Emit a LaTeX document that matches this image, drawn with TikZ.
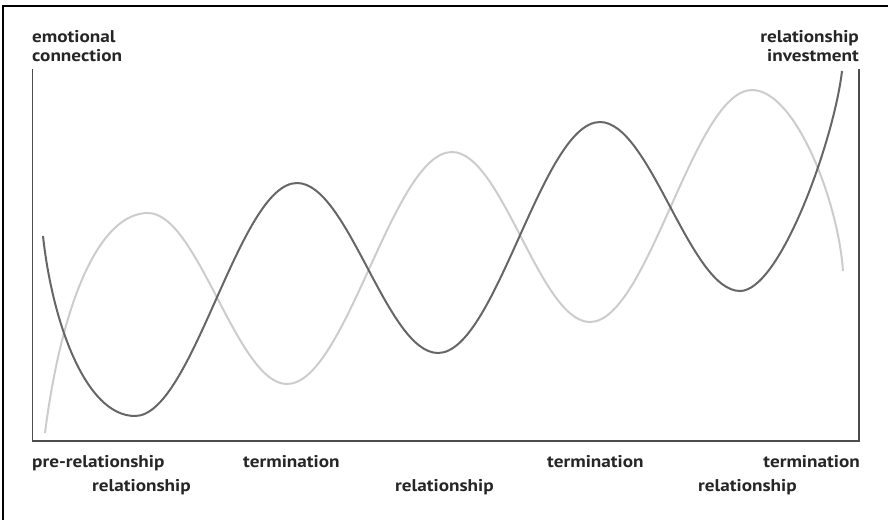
\documentclass[tikz,border=0pt]{standalone}
\usepackage{fontspec}
\setmainfont[FakeStretch=1.13]{PT Sans}
\begin{document}
\begin{tikzpicture}[x=1pt,y=-1pt,
  lbl/.style={inner sep=0pt,font=\bfseries\fontsize{17}{18.3}\selectfont,text=black!85},
  axis/.style={draw=black!70,line width=1.3pt},
  frame/.style={draw=black,line width=1.4pt},
  darkc/.style={draw=black!60,line width=2pt},
  lightc/.style={draw=black!20,line width=2pt}]
\useasboundingbox (0,0) rectangle (888,519);
\draw[frame] (3,525) -- (3,6) -- (895,6);
\draw[axis] (32.5,69) -- (32.5,441) -- (859,441) -- (859,69);
% light curve
\draw[lightc] (45,433) .. controls (62,300) and (100,213) .. (148,213)
  .. controls (198,213) and (237,384) .. (287,384)
  .. controls (346,384) and (393,152) .. (452,152)
  .. controls (502,152) and (540,322) .. (590,322)
  .. controls (648,322) and (694,90) .. (752,90)
  .. controls (795,90) and (838,200) .. (843,271);
% dark curve
\draw[darkc] (43,236) .. controls (52,320) and (85,416) .. (135,416)
  .. controls (193,416) and (239,183) .. (297,183)
  .. controls (348,183) and (387,353) .. (438,353)
  .. controls (496,353) and (542,122) .. (600,122)
  .. controls (650,122) and (690,291) .. (740,291)
  .. controls (780,291) and (834,140) .. (842,71);
\node[lbl,anchor=base west,align=left] (ec) at (32,61) {emotional\\connection};
\node[lbl,anchor=base east,align=right] (ri) at (859,61) {relationship\\investment};
\node[lbl,anchor=base west] (pre) at (32,467) {pre-relationship};
\node[lbl,anchor=base west] (r1) at (92,491) {relationship};
\node[lbl,anchor=base west] (t1) at (243,467) {termination};
\node[lbl,anchor=base west] (r2) at (395,491) {relationship};
\node[lbl,anchor=base west] (t2) at (547,467) {termination};
\node[lbl,anchor=base east] (t3) at (860,467) {termination};
\node[lbl,anchor=base west] (r3) at (698,491) {relationship};
\end{tikzpicture}
\end{document}
